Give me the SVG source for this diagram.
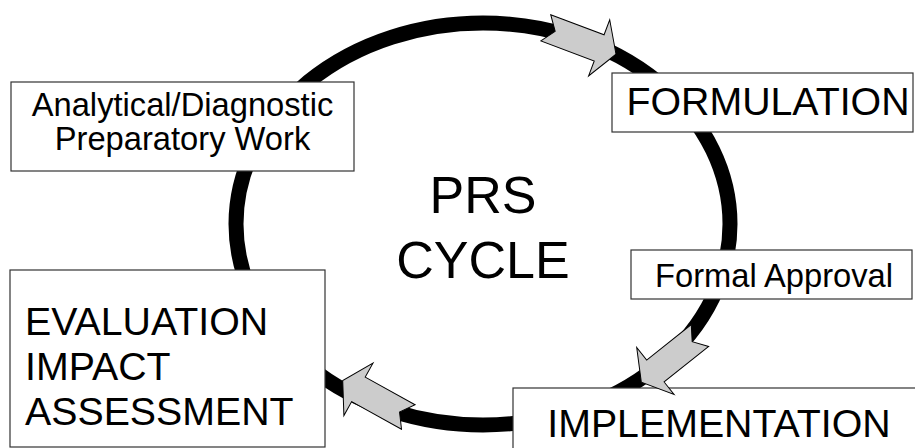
<svg xmlns="http://www.w3.org/2000/svg" width="915" height="448" viewBox="0 0 915 448">
<style>
text{font-family:"Liberation Sans",Arial,sans-serif;fill:#000}
.box{fill:#fff;stroke:#333;stroke-width:1.2}
.arrow{fill:#ccc;stroke:#000;stroke-width:1;stroke-linejoin:miter}
.big{font-size:39.3px}
.mid{font-size:32.7px}
</style>
<defs>
<path id="blockArrow" d="M0,-14 L57,-14 L57,-30 L75,0 L57,30 L57,14 L0,14 L10,0 Z"/>
</defs>
<rect width="915" height="448" fill="#fff"/>
<g id="cycle-ring">
<ellipse cx="483" cy="224" rx="247" ry="201" fill="none" stroke="#000" stroke-width="15"/>
</g>
<g id="center-label">
<text x="483" y="213" font-size="52" text-anchor="middle">PRS</text>
<text x="483" y="278" font-size="52" text-anchor="middle">CYCLE</text>
</g>
<g id="node-analytical">
<rect class="box" x="11" y="82" width="343" height="89"/>
<text class="mid" x="182.5" y="115.5" text-anchor="middle">Analytical/Diagnostic</text>
<text class="mid" x="182.5" y="149.5" text-anchor="middle">Preparatory Work</text>
</g>
<g id="node-formulation">
<rect class="box" x="612" y="73" width="301" height="59"/>
<text class="big" x="768" y="115" text-anchor="middle">FORMULATION</text>
</g>
<g id="node-approval">
<rect class="box" x="631" y="250" width="281" height="49"/>
<text class="mid" x="774" y="287" text-anchor="middle">Formal Approval</text>
</g>
<g id="node-implementation">
<rect class="box" x="513" y="388" width="420" height="80"/>
<text class="big" x="719" y="437" text-anchor="middle">IMPLEMENTATION</text>
</g>
<g id="node-evaluation">
<rect class="box" x="10" y="270" width="315" height="177"/>
<text class="big" x="25" y="335">EVALUATION</text>
<text class="big" x="25" y="380">IMPACT</text>
<text class="big" x="25" y="425">ASSESSMENT</text>
</g>
<g id="connectors">
<use href="#blockArrow" class="arrow" transform="translate(545.8,27.8) rotate(20.6)"/>
<use href="#blockArrow" class="arrow" transform="translate(700,335.5) rotate(141.5)"/>
<use href="#blockArrow" class="arrow" transform="translate(408.3,417) rotate(209)"/>
</g>
</svg>
